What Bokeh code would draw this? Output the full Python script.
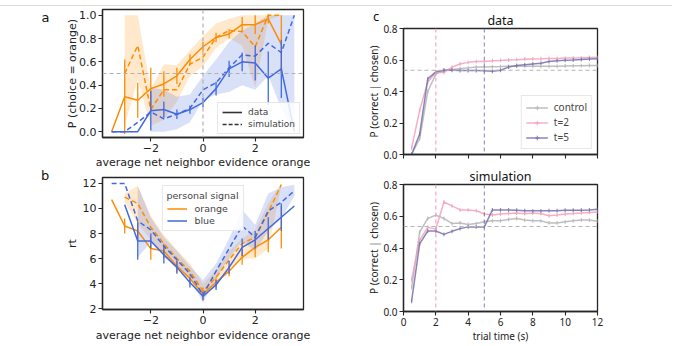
import numpy as np
from bokeh.plotting import figure
from bokeh.layouts import row, column
from bokeh.models import Span, Legend, LegendItem, Range1d, FixedTicker, LinearAxis, Div
from bokeh.embed import file_html
from bokeh.resources import INLINE

ORANGE = "#ff8c00"
BLUE = "#4169e1"
GRAY = "#b4b4b4"
PINK = "#f3a0b8"
PURPLE = "#7470ad"

# ---------------- panel a : P(choice = orange) ----------------
a_or_data_x = [-3.5, -3, -2.5, -2, -1.5, -1, -0.5, 0, 0.5, 1, 1.5, 2, 2.5, 3]
a_or_data_y = [0.0, 0.30, 0.27, 0.37, 0.41, 0.48, 0.62, 0.73, 0.81, 0.84, 0.92, 0.92, 0.97, 0.75]
a_or_data_e = [0.0, 0.32, 0.15, 0.18, 0.11, 0.07, 0.045, 0.04, 0.04, 0.04, 0.065, 0.08, 0.04, 0.25]
a_or_sim_x = [-3, -2.5, -2, -1.5, -1, -0.5, 0, 0.5, 1, 1.5, 2, 2.5, 3]
a_or_sim_y = [0.50, 0.74, 0.19, 0.36, 0.36, 0.58, 0.64, 0.81, 0.87, 0.86, 0.73, 1.0, 1.0]
a_or_band_lo = [0.05, 0.45, 0.05, 0.10, 0.26, 0.48, 0.56, 0.72, 0.80, 0.74, 0.38, 0.96, 1.0]
a_or_band_hi = [1.0, 1.0, 0.36, 0.58, 0.57, 0.70, 0.82, 0.93, 0.97, 1.0, 1.0, 1.0, 1.0]

a_bl_data_x = [-3.5, -3, -2.5, -2, -1.5, -1, -0.5, 0, 0.5, 1, 1.5, 2, 2.5, 3, 3.5]
a_bl_data_y = [0.0, 0.0, 0.0, 0.18, 0.19, 0.15, 0.19, 0.25, 0.37, 0.54, 0.60, 0.59, 0.46, 0.54, 0.0]
a_bl_data_e = [0.0, 0.0, 0.0, 0.17, 0.07, 0.04, 0.035, 0.04, 0.06, 0.07, 0.08, 0.15, 0.23, 0.25, 0.0]
a_bl_sim_x = [-3.5, -3, -2.5, -2, -1.5, -1, -0.5, 0, 0.5, 1, 1.5, 2, 2.5, 3, 3.5]
a_bl_sim_y = [0.0, 0.0, 0.08, 0.17, 0.11, 0.15, 0.20, 0.36, 0.42, 0.55, 0.66, 0.65, 0.76, 0.68, 1.0]
a_bl_band_x = [-2, -1.5, -1, -0.5, 0, 0.5, 1, 1.5, 2, 2.5, 3, 3.5]
a_bl_band_lo = [0.0, 0.0, 0.02, 0.08, 0.27, 0.32, 0.34, 0.40, 0.36, 0.48, 0.20, 0.0]
a_bl_band_hi = [0.38, 0.36, 0.30, 0.32, 0.48, 0.62, 0.77, 0.87, 0.93, 1.0, 1.0, 1.0]

a_xticks = [-2, 0, 2]
a_xtick_labels = ["\u22122", "0", "2"]
a_yticks = [0.0, 0.2, 0.4, 0.6, 0.8, 1.0]
a_ytick_labels = ["0.0", "0.2", "0.4", "0.6", "0.8", "1.0"]

# ---------------- panel b : rt ----------------
b_or_data_x = [-3.5, -3, -2.5, -2, -1.5, -1, -0.5, 0, 0.5, 1, 1.5, 2, 2.5, 3]
b_or_data_y = [10.7, 8.6, 8.2, 6.8, 6.6, 5.4, 4.4, 3.2, 4.1, 5.0, 6.1, 6.9, 7.5, 8.5]
b_or_data_e = [0.0, 0.6, 0.8, 0.9, 0.6, 0.5, 0.4, 0.5, 0.4, 0.4, 0.6, 0.8, 1.0, 1.7]
b_or_sim_x = [-3, -2.5, -2, -1.5, -1, -0.5, 0, 0.5, 1, 1.5, 2, 2.5, 3]
b_or_sim_y = [10.9, 10.4, 8.5, 7.2, 6.0, 5.0, 3.4, 4.5, 5.9, 7.2, 7.7, 9.7, 11.9]
b_or_band_lo = [10.5, 8.8, 7.5, 6.3, 5.3, 4.4, 2.8, 3.9, 5.2, 6.0, 6.0, 6.8, 11.8]
b_or_band_hi = [11.2, 11.8, 9.4, 7.9, 6.7, 5.6, 4.0, 5.1, 6.6, 7.6, 8.3, 10.4, 12.0]

b_bl_data_x = [-3, -2.5, -2, -1.5, -1, -0.5, 0, 0.5, 1, 1.5, 2, 2.5, 3, 3.5]
b_bl_data_y = [10.3, 7.4, 7.4, 6.3, 5.3, 4.1, 3.0, 3.9, 5.3, 6.9, 7.5, 8.4, 9.3, 10.2]
b_bl_data_e = [0.0, 1.5, 0.6, 0.7, 0.5, 0.4, 0.35, 0.4, 0.5, 0.7, 0.7, 0.9, 1.1, 0.0]
b_bl_sim_x = [-3.5, -3, -2.5, -2, -1.5, -1, -0.5, 0, 0.5, 1, 1.5, 2, 2.5, 3, 3.5]
b_bl_sim_y = [12.0, 12.0, 9.0, 8.3, 7.0, 5.9, 4.8, 3.1, 5.0, 6.8, 8.6, 7.7, 9.8, 10.5, 11.4]
b_bl_band_x = [-2.5, -2, -1.5, -1, -0.5, 0, 0.5, 1, 1.5, 2, 2.5, 3, 3.5]
b_bl_band_lo = [6.1, 7.3, 6.2, 5.3, 4.4, 2.5, 4.4, 6.0, 7.4, 6.6, 8.2, 9.2, 11.0]
b_bl_band_hi = [11.8, 9.3, 7.7, 6.6, 5.4, 4.3, 5.6, 7.6, 9.9, 8.7, 11.2, 11.7, 11.9]

b_yticks = [2, 4, 6, 8, 10, 12]

# ---------------- panel c : P(correct | chosen) over trial time ----------------
c_t = [0.5, 1, 1.5, 2, 2.5, 3, 3.5, 4, 4.5, 5, 5.5, 6, 6.5, 7, 7.5, 8, 8.5, 9, 9.5, 10, 10.5, 11, 11.5, 12]
c_data_control = [0.00, 0.10, 0.40, 0.51, 0.535, 0.54, 0.545, 0.55, 0.555, 0.555, 0.557, 0.558, 0.56, 0.56,
                  0.56, 0.56, 0.56, 0.56, 0.56, 0.562, 0.563, 0.564, 0.565, 0.565]
c_data_t2 = [0.04, 0.28, 0.46, 0.52, 0.52, 0.555, 0.575, 0.585, 0.59, 0.59, 0.595, 0.597, 0.60, 0.602,
             0.605, 0.607, 0.608, 0.61, 0.61, 0.612, 0.613, 0.614, 0.616, 0.617]
c_data_t5 = [0.00, 0.13, 0.48, 0.525, 0.535, 0.535, 0.533, 0.533, 0.533, 0.532, 0.528, 0.535, 0.555, 0.565,
             0.57, 0.575, 0.58, 0.59, 0.595, 0.598, 0.60, 0.603, 0.606, 0.608]
c_sim_control = [0.15, 0.50, 0.586, 0.607, 0.586, 0.554, 0.558, 0.548, 0.554, 0.565, 0.571, 0.571, 0.58,
                 0.586, 0.576, 0.571, 0.571, 0.558, 0.558, 0.565, 0.571, 0.576, 0.576, 0.569]
c_sim_t2 = [0.20, 0.45, 0.53, 0.52, 0.69, 0.665, 0.64, 0.64, 0.635, 0.614, 0.608, 0.614, 0.618, 0.62,
            0.616, 0.62, 0.616, 0.603, 0.608, 0.614, 0.618, 0.62, 0.624, 0.627]
c_sim_t5 = [0.064, 0.426, 0.507, 0.507, 0.486, 0.505, 0.522, 0.533, 0.533, 0.533, 0.64, 0.64, 0.64, 0.638,
            0.635, 0.634, 0.634, 0.635, 0.635, 0.638, 0.638, 0.638, 0.64, 0.644]
c_err = 0.012
c_chance = 0.535
c_switch_t2 = 2
c_switch_t5 = 5
c_xticks = [0, 2, 4, 6, 8, 10, 12]
c_yticks = [0.0, 0.2, 0.4, 0.6, 0.8]
c_ytick_labels = ["0.0", "0.2", "0.4", "0.6", "0.8"]
c_legend = ["control", "t=2", "t=5"]

panel_letters = ["a", "b", "c"]

DV = "DejaVu Sans"
NS = "Noto Sans"
NAN = float("nan")


def style(p, font, tick_size, label_size, ylabel_standoff=-1, xlabel_standoff=1):
    p.xgrid.visible = False
    p.ygrid.visible = False
    p.outline_line_color = "#262626"
    p.outline_line_width = 1.3
    p.outline_line_alpha = 1
    p.background_fill_color = "white"
    p.border_fill_color = "white"
    for ax in p.axis:
        ax.major_tick_out = 4
        ax.major_tick_in = 0
        ax.minor_tick_out = 0
        ax.minor_tick_in = 0
        ax.axis_line_color = "#262626"
        ax.axis_line_width = 1.3
        ax.major_tick_line_color = "#262626"
        ax.major_tick_line_width = 1.1
        ax.major_label_text_font = font
        ax.major_label_text_font_size = tick_size
        ax.major_label_text_color = "#222222"
        ax.major_label_standoff = 2
        ax.axis_label_text_font = font
        ax.axis_label_text_font_size = label_size
        ax.axis_label_text_font_style = "normal"
        ax.axis_label_text_color = "#222222"
    p.yaxis.axis_label_standoff = ylabel_standoff
    p.xaxis.axis_label_standoff = xlabel_standoff


def letter_axis(p, text, ypos, standoff, font):
    # panel letter drawn as the only tick label of an extra, invisible left axis
    ax = LinearAxis(ticker=FixedTicker(ticks=[ypos]), major_label_overrides={ypos: text},
                    axis_line_color=None, major_tick_line_color=None, minor_tick_line_color=None,
                    major_tick_out=0, major_tick_in=0, minor_tick_out=0, minor_tick_in=0,
                    major_label_standoff=standoff, major_label_text_font=font,
                    major_label_text_font_size="13px", major_label_text_color="#111111")
    p.add_layout(ax, "left")


def errbars(p, xs, ys, es, color, width=1.3):
    xx = [x for x, e in zip(xs, es) if e > 0]
    lo = [y - e for y, e in zip(ys, es) if e > 0]
    hi = [y + e for y, e in zip(ys, es) if e > 0]
    p.segment(x0=xx, y0=lo, x1=xx, y1=hi, line_color=color, line_width=width)


XR = (-3.85, 3.85)

# ---------- figure a ----------
pa = figure(width=340, height=171, x_range=Range1d(*XR), y_range=Range1d(-0.05, 1.05),
            output_backend="svg", toolbar_location=None,
            min_border_left=102, min_border_right=37, min_border_top=9, min_border_bottom=32)
style(pa, DV, "11px", "11px", ylabel_standoff=-3, xlabel_standoff=1)
pa.xaxis.ticker = FixedTicker(ticks=a_xticks)
pa.xaxis.major_label_overrides = dict(zip(a_xticks, a_xtick_labels))
pa.yaxis.ticker = FixedTicker(ticks=a_yticks)
pa.yaxis.major_label_overrides = dict(zip(a_yticks, a_ytick_labels))
pa.xaxis.axis_label = "average net neighbor evidence orange"
pa.yaxis.axis_label = "P (choice = orange)"
pa.add_layout(Span(location=0.5, dimension="width", line_color="#b0b0b0", line_dash="4 3", line_width=1.2))
pa.add_layout(Span(location=0, dimension="height", line_color="#b0b0b0", line_dash="4 3", line_width=1.2))
pa.varea(x=a_or_sim_x, y1=a_or_band_lo, y2=a_or_band_hi, fill_color=ORANGE, fill_alpha=0.2)
pa.varea(x=a_bl_band_x, y1=a_bl_band_lo, y2=a_bl_band_hi, fill_color=BLUE, fill_alpha=0.2)
pa.line(a_or_sim_x, a_or_sim_y, line_color=ORANGE, line_width=1.5, line_dash="5 3")
pa.line(a_or_data_x, a_or_data_y, line_color=ORANGE, line_width=1.5)
errbars(pa, a_or_data_x, a_or_data_y, a_or_data_e, ORANGE)
pa.line(a_bl_sim_x, a_bl_sim_y, line_color=BLUE, line_width=1.5, line_dash="5 3")
pa.line(a_bl_data_x, a_bl_data_y, line_color=BLUE, line_width=1.5)
errbars(pa, a_bl_data_x, a_bl_data_y, a_bl_data_e, BLUE)
ld = pa.line([NAN], [NAN], line_color="#333333", line_width=1.6)
ls = pa.line([NAN], [NAN], line_color="#333333", line_width=1.6, line_dash="4 2")
lega = Legend(items=[LegendItem(label="data", renderers=[ld]),
                     LegendItem(label="simulation", renderers=[ls])],
              location="bottom_right", label_text_font=DV, label_text_font_size="9px",
              glyph_width=20, glyph_height=10, label_height=10, spacing=2, padding=4, margin=3,
              label_standoff=6, border_line_color="#d0d0d0", background_fill_alpha=0.85)
pa.add_layout(lega)
letter_axis(pa, panel_letters[0], 0.982, 14, DV)

# ---------- figure b ----------
pb = figure(width=340, height=173, x_range=Range1d(*XR), y_range=Range1d(1.94, 12.47),
            output_backend="svg", toolbar_location=None,
            min_border_left=102, min_border_right=37, min_border_top=6, min_border_bottom=35)
style(pb, DV, "11px", "11px", ylabel_standoff=1, xlabel_standoff=2)
pb.xaxis.ticker = FixedTicker(ticks=a_xticks)
pb.xaxis.major_label_overrides = dict(zip(a_xticks, a_xtick_labels))
pb.yaxis.ticker = FixedTicker(ticks=b_yticks)
pb.xaxis.axis_label = "average net neighbor evidence orange"
pb.yaxis.axis_label = "rt"
pb.varea(x=b_or_sim_x, y1=b_or_band_lo, y2=b_or_band_hi, fill_color=ORANGE, fill_alpha=0.2)
pb.varea(x=b_bl_band_x, y1=b_bl_band_lo, y2=b_bl_band_hi, fill_color=BLUE, fill_alpha=0.2)
pb.line(b_or_sim_x, b_or_sim_y, line_color=ORANGE, line_width=1.5, line_dash="5 3")
lo_b = pb.line(b_or_data_x, b_or_data_y, line_color=ORANGE, line_width=1.5)
errbars(pb, b_or_data_x, b_or_data_y, b_or_data_e, ORANGE)
pb.line(b_bl_sim_x, b_bl_sim_y, line_color=BLUE, line_width=1.5, line_dash="5 3")
lb_b = pb.line(b_bl_data_x, b_bl_data_y, line_color=BLUE, line_width=1.5)
errbars(pb, b_bl_data_x, b_bl_data_y, b_bl_data_e, BLUE)
legb = Legend(items=[LegendItem(label="orange", renderers=[lo_b]),
                     LegendItem(label="blue", renderers=[lb_b])],
              location="top_center", title="personal signal",
              title_text_font=DV, title_text_font_size="9.5px", title_text_font_style="normal",
              title_standoff=2, label_text_font=DV, label_text_font_size="9.5px",
              glyph_width=20, glyph_height=9, label_height=9, spacing=1, padding=4, margin=8,
              label_standoff=8, border_line_color="#d0d0d0", background_fill_alpha=0.85)
pb.add_layout(legb)


# ---------- figures c ----------
def cfig(height, top, bottom, title):
    p = figure(width=336, height=height, x_range=Range1d(0, 12), y_range=Range1d(0, 0.8),
               output_backend="svg", toolbar_location=None, title=title,
               min_border_left=63, min_border_right=79, min_border_top=top, min_border_bottom=bottom)
    style(p, NS, "10px", "10px", ylabel_standoff=-1, xlabel_standoff=0)
    p.title.align = "center"
    p.title.text_font = NS
    p.title.text_font_size = "12.5px"
    p.title.text_font_style = "normal"
    p.title.text_color = "#111111"
    p.title.standoff = 0
    p.title.offset = 0
    p.xaxis.ticker = FixedTicker(ticks=c_xticks)
    p.yaxis.ticker = FixedTicker(ticks=c_yticks)
    p.yaxis.major_label_overrides = dict(zip(c_yticks, c_ytick_labels))
    p.yaxis.axis_label = "P (correct | chosen)"
    p.add_layout(Span(location=c_chance, dimension="width", line_color="#b4b4b4", line_dash="4 3", line_width=1.1))
    p.add_layout(Span(location=c_switch_t2, dimension="height", line_color=PINK, line_dash="4 3", line_width=1.1))
    p.add_layout(Span(location=c_switch_t5, dimension="height", line_color=PURPLE, line_dash="4 3", line_width=1.1, line_alpha=0.8))
    return p


def cseries(p, ys, color):
    r = p.line(c_t, ys, line_color=color, line_width=1.5, line_alpha=0.85)
    lo = [y - c_err for y in ys]
    hi = [y + c_err for y in ys]
    p.segment(x0=c_t, y0=lo, x1=c_t, y1=hi, line_color=color, line_width=1.1, line_alpha=0.85)
    return r


pc1 = cfig(165, 28, 11, "data")
pc1.xaxis.major_label_overrides = {t: "" for t in c_xticks}
pc1.xaxis.major_label_standoff = 0
cseries(pc1, c_data_control, GRAY)
cseries(pc1, c_data_t2, PINK)
cseries(pc1, c_data_t5, PURPLE)
items = []
for lab, col in zip(c_legend, [GRAY, PINK, PURPLE]):
    ln = pc1.line([NAN], [NAN], line_color=col, line_width=1.5, line_alpha=0.85)
    mk = pc1.scatter([NAN], [NAN], marker="cross", size=11, line_color=col, line_width=1.1, line_alpha=0.85)
    items.append(LegendItem(label=lab, renderers=[ln, mk]))
legc = Legend(items=items, location="bottom_right", label_text_font=NS, label_text_font_size="10px",
              glyph_width=22, glyph_height=11, label_height=11, spacing=1, padding=4, margin=5,
              label_standoff=6, border_line_color="#d0d0d0", background_fill_alpha=0.85)
pc1.add_layout(legc)

pc2 = cfig(180, 16, 34, "simulation")
pc2.xaxis.axis_label = "trial time (s)"
cseries(pc2, c_sim_control, GRAY)
cseries(pc2, c_sim_t2, PINK)
cseries(pc2, c_sim_t5, PURPLE)

# panel letters "b" and "c" sit in empty corners outside the plot frames; thin page rule on top
overlay_html = (
    '<div style="position:absolute; left:0px; top:5px; width:672px; height:0px; '
    'border-top:1px solid #dadada; z-index:100;"></div>'
    '<div style="position:absolute; left:41px; top:167px; z-index:100; '
    'font-family:\'DejaVu Sans\'; font-size:13px; line-height:17px; color:#111111;">'
    + panel_letters[1] + '</div>'
    '<div style="position:absolute; left:373px; top:8px; z-index:100; '
    'font-family:\'Noto Sans\'; font-size:13px; line-height:17px; color:#111111;">'
    + panel_letters[2] + '</div>'
)
div_letters = Div(text=overlay_html, width=0, height=0, margin=0, styles={"overflow": "visible"})

layout = row(div_letters, column(pa, pb, spacing=0), column(pc1, pc2, spacing=0), spacing=0)
open("out.html", "w").write(file_html(layout, INLINE))
